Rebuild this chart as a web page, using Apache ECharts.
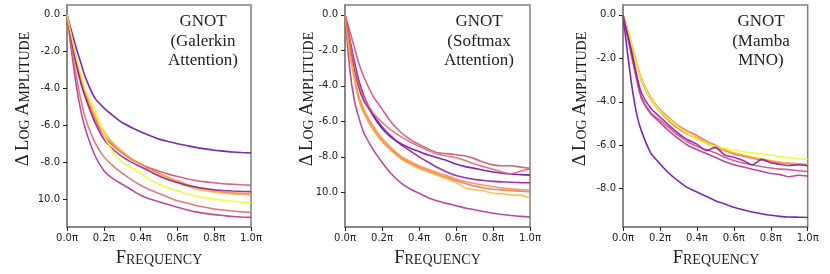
<!DOCTYPE html>
<html><head><meta charset="utf-8">
<script src="https://cdn.jsdelivr.net/npm/echarts@6/dist/echarts.min.js"></script>
<style>html,body{margin:0;padding:0;background:#fff}#c{width:830px;height:274px}</style>
</head><body><div id="c"></div>
<script>
// Frequency positions (fraction of π)
const freq = [0,0.025,0.05,0.075,0.1,0.15,0.2,0.25,0.3,0.35,0.4,0.45,0.5,0.55,0.6,0.65,0.7,0.75,0.8,0.85,0.9,0.95,1];
const xTicks = [0,0.2,0.4,0.6,0.8,1.0];
const yTicks12 = [0,-2,-4,-6,-8,-10];
const yTicks3 = [0,-2,-4,-6,-8];
const panelTitles = [["GNOT","(Galerkin","Attention)"],["GNOT","(Softmax","Attention)"],["GNOT","(Mamba","MNO)"]];
const yTitle = "Δ Log Amplitude";
const xTitle = "Frequency";

// Panel 1: Galerkin attention
const g_purpleA = [0,-0.9,-1.8,-2.6,-3.4,-4.5,-5.05,-5.47,-5.85,-6.12,-6.35,-6.55,-6.75,-6.88,-7.0,-7.1,-7.2,-7.28,-7.35,-7.4,-7.45,-7.48,-7.5];
const g_magenta = [0,-2.0,-3.8,-5.2,-6.2,-7.6,-8.45,-8.9,-9.2,-9.5,-9.8,-10.0,-10.15,-10.3,-10.45,-10.58,-10.7,-10.78,-10.85,-10.9,-10.95,-10.98,-11.0];
const g_salmon = [0,-1.8,-3.3,-4.6,-5.6,-6.9,-7.7,-8.2,-8.6,-8.95,-9.25,-9.5,-9.7,-9.9,-10.1,-10.22,-10.35,-10.45,-10.55,-10.6,-10.65,-10.7,-10.72];
const g_pink = [0,-1.3,-2.5,-3.5,-4.3,-5.6,-6.55,-7.1,-7.5,-7.85,-8.1,-8.32,-8.5,-8.65,-8.78,-8.9,-9.0,-9.07,-9.12,-9.17,-9.2,-9.23,-9.25];
const g_purpleB = [0,-1.4,-2.7,-3.7,-4.5,-5.8,-6.75,-7.3,-7.7,-8.0,-8.25,-8.5,-8.75,-8.95,-9.1,-9.25,-9.35,-9.43,-9.5,-9.54,-9.57,-9.59,-9.6];
const g_orange = [0,-1.4,-2.6,-3.6,-4.4,-5.6,-6.5,-7.05,-7.5,-7.85,-8.1,-8.38,-8.6,-8.82,-9.0,-9.2,-9.35,-9.46,-9.55,-9.62,-9.67,-9.7,-9.72];
const g_gold = [0,-1.3,-2.4,-3.4,-4.2,-5.4,-6.3,-6.95,-7.4,-7.8,-8.1,-8.4,-8.65,-8.9,-9.1,-9.3,-9.45,-9.55,-9.62,-9.68,-9.72,-9.75,-9.77];
const g_yellow = [0,-1.2,-2.3,-3.2,-4.1,-5.1,-6.5,-7.45,-8.0,-8.3,-8.6,-8.95,-9.2,-9.4,-9.55,-9.72,-9.85,-9.93,-10.0,-10.07,-10.12,-10.17,-10.2];

// Panel 2: Softmax attention
const s_magenta = [0,-3.0,-4.8,-5.8,-6.6,-7.55,-8.3,-8.95,-9.45,-9.8,-10.05,-10.3,-10.48,-10.62,-10.75,-10.88,-10.98,-11.08,-11.18,-11.25,-11.3,-11.35,-11.38];
const s_pink = [0,-0.9,-1.8,-2.75,-3.45,-4.55,-5.3,-6.05,-6.6,-7.0,-7.3,-7.55,-7.77,-7.82,-7.88,-7.95,-8.1,-8.3,-8.45,-8.5,-8.5,-8.58,-8.65];
const s_salmon = [0,-1.4,-2.8,-3.9,-4.62,-5.5,-6.05,-6.5,-6.85,-7.15,-7.4,-7.65,-7.85,-7.95,-8.05,-8.2,-8.4,-8.55,-8.7,-8.85,-8.95,-8.8,-8.68];
const s_purpleA = [0,-1.35,-2.6,-3.7,-4.5,-5.65,-6.4,-6.9,-7.25,-7.5,-7.7,-7.9,-8.05,-8.2,-8.4,-8.55,-8.65,-8.75,-8.85,-8.92,-8.97,-9.0,-9.03];
const s_purpleB = [0,-1.6,-3.0,-4.1,-4.8,-5.6,-6.3,-6.85,-7.3,-7.65,-8.0,-8.3,-8.6,-8.85,-9.05,-9.18,-9.27,-9.33,-9.38,-9.41,-9.43,-9.45,-9.46];
const s_orange = [0,-2.0,-3.4,-4.6,-5.3,-6.25,-6.95,-7.5,-7.95,-8.25,-8.5,-8.7,-8.9,-9.05,-9.25,-9.4,-9.5,-9.6,-9.68,-9.75,-9.8,-9.84,-9.87];
const s_red = [0,-2.1,-3.55,-4.75,-5.45,-6.4,-7.1,-7.6,-8.05,-8.35,-8.6,-8.8,-9.0,-9.15,-9.35,-9.5,-9.65,-9.75,-9.82,-9.86,-9.9,-9.93,-9.97];
const s_gold = [0,-2.1,-3.6,-4.8,-5.5,-6.45,-7.15,-7.65,-8.1,-8.4,-8.65,-8.85,-9.05,-9.25,-9.45,-9.75,-9.85,-9.92,-10.05,-10.08,-10.15,-10.17,-10.32];

// Panel 3: Mamba MNO
const m_purpleA = [0,-1.8,-3.4,-4.6,-5.35,-6.35,-6.85,-7.3,-7.65,-7.95,-8.15,-8.35,-8.55,-8.7,-8.85,-8.97,-9.07,-9.15,-9.22,-9.27,-9.3,-9.31,-9.32];
const m_magenta = [0,-1.0,-2.0,-3.0,-3.85,-4.55,-4.95,-5.35,-5.7,-6.0,-6.2,-6.38,-6.55,-6.75,-6.9,-7.0,-7.1,-7.2,-7.3,-7.35,-7.45,-7.38,-7.42];
const m_pink = [0,-1.0,-2.0,-3.0,-3.8,-4.5,-4.85,-5.2,-5.55,-5.85,-6.05,-6.2,-6.35,-6.55,-6.7,-6.82,-6.9,-6.98,-7.05,-7.1,-7.12,-7.17,-7.2];
const m_purpleB = [0,-0.9,-1.8,-2.8,-3.6,-4.3,-4.7,-5.1,-5.45,-5.75,-5.95,-6.25,-6.1,-6.45,-6.55,-6.7,-6.9,-6.65,-6.8,-6.88,-6.93,-6.9,-6.95];
const m_salmon = [0,-0.7,-1.45,-2.25,-2.95,-3.8,-4.35,-4.75,-5.1,-5.35,-5.55,-5.8,-6.0,-6.2,-6.4,-6.5,-6.6,-6.68,-6.75,-6.8,-6.85,-6.88,-6.92];
const m_orange = [0,-0.75,-1.55,-2.35,-3.05,-3.9,-4.45,-4.9,-5.25,-5.5,-5.7,-5.9,-6.1,-6.25,-6.38,-6.48,-6.57,-6.65,-6.72,-6.78,-6.83,-6.87,-6.9];
const m_gold = [0,-0.7,-1.5,-2.3,-3.0,-3.85,-4.4,-4.85,-5.2,-5.45,-5.65,-5.85,-6.05,-6.2,-6.35,-6.45,-6.55,-6.65,-6.72,-6.78,-6.82,-6.85,-6.87];
const m_yellow = [0,-0.7,-1.5,-2.3,-3.0,-3.85,-4.4,-4.8,-5.15,-5.45,-5.72,-5.92,-6.05,-6.15,-6.22,-6.3,-6.35,-6.4,-6.45,-6.52,-6.57,-6.62,-6.65];

const C = {purpleA:'#6a00a8', purpleB:'#8f0da4', magenta:'#b12a90', pink:'#cc4778', salmon:'#e16462', red:'#e8705b', orange:'#f48849', gold:'#fdb32f', yellow:'#f0f921'};

const panels = [
  {lines:[['purpleA',g_purpleA],['magenta',g_magenta],['salmon',g_salmon],['pink',g_pink],['gold',g_gold],['orange',g_orange],['purpleB',g_purpleB],['yellow',g_yellow]], ymin:-11.52, ymax:0.53, yt:yTicks12},
  {lines:[['magenta',s_magenta],['pink',s_pink],['purpleA',s_purpleA],['purpleB',s_purpleB],['orange',s_orange],['red',s_red],['gold',s_gold],['salmon',s_salmon]], ymin:-11.95, ymax:0.55, yt:yTicks12},
  {lines:[['purpleA',m_purpleA],['magenta',m_magenta],['pink',m_pink],['salmon',m_salmon],['orange',m_orange],['gold',m_gold],['yellow',m_yellow],['purpleB',m_purpleB]], ymin:-9.76, ymax:0.45, yt:yTicks3}
];

const gridPos = [{left:67,width:184},{left:345,width:185},{left:623,width:184.7}];
const serif = "'Liberation Serif', 'DejaVu Serif', serif";
const sans = "'DejaVu Sans', sans-serif";

const grid=[], xAxis=[], yAxis=[], series=[], graphic=[];
panels.forEach((p,i)=>{
  grid.push({left:gridPos[i].left, width:gridPos[i].width, top:5, height:222, show:true, borderColor:'#808080', borderWidth:1.5, backgroundColor:'transparent'});
  xAxis.push({type:'value', gridIndex:i, min:0, max:1, interval:0.2,
    axisLine:{show:true, onZero:false, lineStyle:{color:'#808080', width:1.5}},
    axisTick:{show:true, length:4, lineStyle:{color:'#222', width:1}},
    splitLine:{show:false},
    axisLabel:{margin:6, fontSize:10, fontFamily:sans, color:'#222', formatter:v=>(Math.round(v*10)/10).toFixed(1)+'π'}});
  yAxis.push({type:'value', gridIndex:i, min:p.ymin, max:p.ymax,
    axisLine:{show:true, onZero:false, lineStyle:{color:'#808080', width:1.5}},
    axisTick:{show:true, length:4, customValues:p.yt, lineStyle:{color:'#222', width:1}},
    splitLine:{show:false},
    axisLabel:{margin:7, fontSize:10, fontFamily:sans, color:'#222', customValues:p.yt,
      formatter:v=> v<=-10 ? Math.abs(v).toFixed(1) : (v===0?'0.0':v.toFixed(1))}});
  p.lines.forEach(([c,vals])=>{
    series.push({type:'line', xAxisIndex:i, yAxisIndex:i, showSymbol:false, symbol:'none', smooth:0.25,
      data: freq.map((f,k)=>[f, vals[k]]), lineStyle:{color:C[c], width:1.6, opacity:0.85}, itemStyle:{color:C[c]}, silent:true, animation:false});
  });
});

const annX = [203, 479, 761];
const yTitleX = [23, 307, 580];
const xTitleX = [159, 437.5, 716];
function smallCaps(s){
  let out='';
  s.split(' ').forEach((w,wi)=>{
    if(wi>0) out+='{s| }';
    const first=w[0], rest=w.slice(1).toUpperCase();
    out+='{b|'+first+'}';
    if(rest) out+='{s|'+rest+'}';
  });
  return out;
}
const rich = {b:{fontSize:18.5, fontFamily:serif, fill:'#222', verticalAlign:'bottom'}, s:{fontSize:14, fontFamily:serif, fill:'#222', verticalAlign:'bottom'}};
for(let i=0;i<3;i++){
  graphic.push({type:'text', x:annX[i], y:12, silent:true, style:{text:panelTitles[i].join('\n'), fontSize:17, lineHeight:19.5, fontFamily:serif, fill:'#222', textAlign:'center', textVerticalAlign:'top'}});
  graphic.push({type:'text', x:yTitleX[i], y:99, rotation:Math.PI/2, silent:true, style:{text:smallCaps(yTitle), rich:rich, textAlign:'center', textVerticalAlign:'middle'}});
  graphic.push({type:'text', x:xTitleX[i], y:258, silent:true, style:{text:smallCaps(xTitle), rich:rich, textAlign:'center', textVerticalAlign:'middle'}});
}

const chart = echarts.init(document.getElementById('c'), null, {renderer:'canvas'});
chart.setOption({animation:false, grid, xAxis, yAxis, series, graphic});
</script></body></html>
